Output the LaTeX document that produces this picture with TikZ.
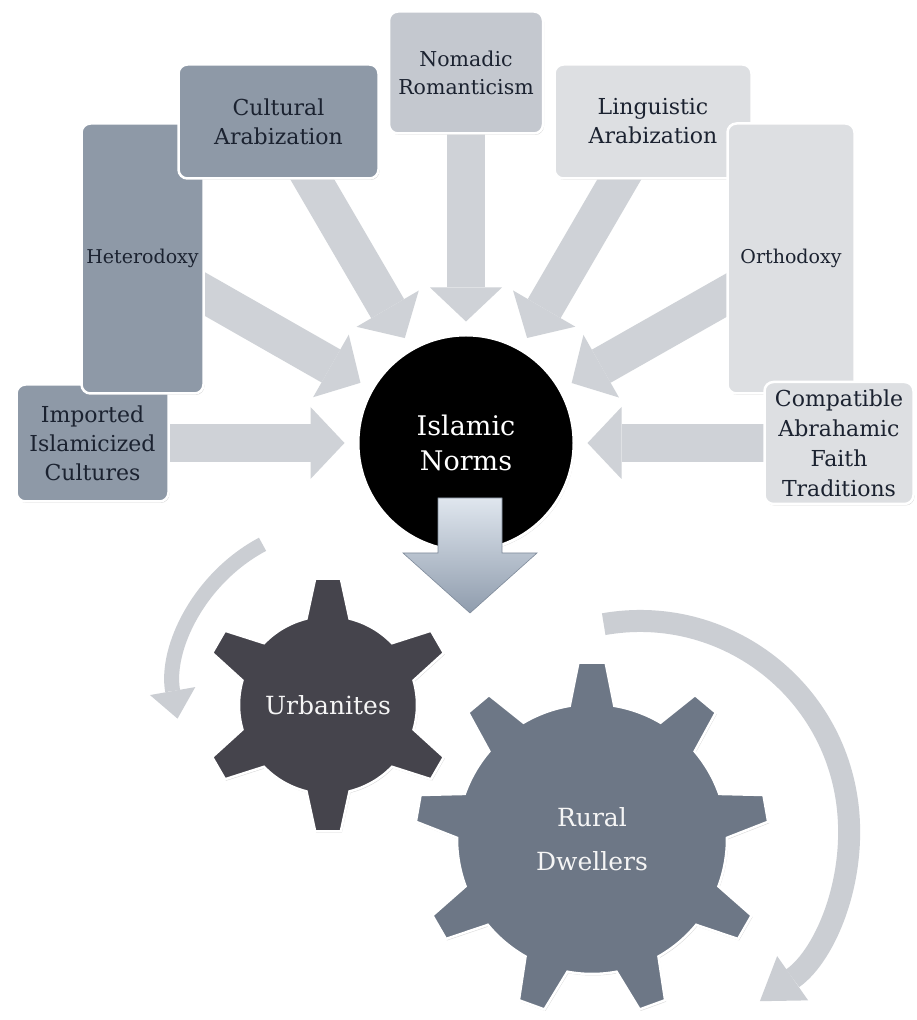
\documentclass[tikz,border=0pt]{standalone}
\usepackage{fontspec}
\setmainfont{DejaVu Serif}
\usetikzlibrary{positioning,calc,shadows,backgrounds,arrows.meta}
\definecolor{darkbox}{HTML}{8E99A7}
\definecolor{midbox}{HTML}{C4C8CF}
\definecolor{lightbox}{HTML}{DDDFE2}
\definecolor{boxtext}{HTML}{1B2230}
\definecolor{arrowgray}{HTML}{CFD2D7}
\definecolor{turngray}{HTML}{CBCED3}
\definecolor{urbangear}{HTML}{45444C}
\definecolor{ruralgear}{HTML}{6D7786}
\definecolor{flowtop}{HTML}{DFE6EE}
\definecolor{flowbottom}{HTML}{8F9CAD}
\definecolor{flowedge}{HTML}{7F8B9B}
\newcommand{\cogwheel}[8]{%
  \path[#8] ($(#1)+(#3-#6:#4)$)
    \foreach \k [evaluate=\k as \ang using #3+(\k-1)*360/#2] in {1,...,#2}{
      -- ($(#1)+(\ang-#6:#4)$) -- ($(#1)+(\ang-#7:#5)$) -- ($(#1)+(\ang+#7:#5)$)
      -- ($(#1)+(\ang+#6:#4)$) arc[start angle=\ang+#6, end angle=\ang+360/#2-#6, radius=#4]
    } -- cycle;
}
\tikzset{
  box/.style={
    rectangle, rounded corners=9pt, draw=white, line width=2.5pt,
    align=center, inner sep=2pt, text=boxtext,
    font=\fontsize{22}{29}\selectfont,
    drop shadow={shadow xshift=1pt, shadow yshift=-1.5pt, opacity=0.3, fill=black!50}
  },
  spoke/.style={
    draw=arrowgray, line width=38pt,
    -{Triangle[length=34pt,width=72pt,line width=0pt]}, shorten >=12pt
  },
  turn/.style={draw=turngray},
  gearrim/.style={
    draw=white, line width=2.5pt,
    drop shadow={shadow xshift=1pt, shadow yshift=-1.5pt, opacity=0.3, fill=black!50}
  },
  geartext/.style={text=white!92!gray, align=center, font=\fontsize{25}{44}\selectfont}
}
\begin{document}
\begin{tikzpicture}[x=1pt,y=1pt]
        \useasboundingbox (0,0) rectangle (916,1020);

        \node [circle, fill=black, draw=white, line width=3pt, minimum size=216pt, text=white, align=center,
               font=\fontsize{27}{35}\selectfont,
               drop shadow={shadow xshift=1pt, shadow yshift=-1.5pt, opacity=0.3, fill=black!50}] (Norms) at (466,577) {Islamic\\Norms};

        \node [box, fill=darkbox, minimum width=152pt, minimum height=117pt, on grid, left=373.5pt of Norms] (Imported) {Imported\\Islamicized\\Cultures};
        \node [box, fill=darkbox, minimum width=122pt, minimum height=270pt, font=\fontsize{19}{24}\selectfont, on grid, above left=184.5pt and 323.5pt of Norms] (Heterodoxy) {Heterodoxy};
        \node [box, fill=darkbox, minimum width=200pt, minimum height=114pt, on grid, above left=321.5pt and 187.5pt of Norms] (Cultural) {Cultural\\Arabization};
        \node [box, fill=midbox, minimum width=154pt, minimum height=122pt, font=\fontsize{20.5}{28}\selectfont, on grid, above=370.5pt of Norms] (Nomadic) {Nomadic\\Romanticism};
        \node [box, fill=lightbox, minimum width=197pt, minimum height=114pt, on grid, above right=321.5pt and 187pt of Norms] (Linguistic) {Linguistic\\Arabization};
        \node [box, fill=lightbox, minimum width=127pt, minimum height=270pt, font=\fontsize{19}{24}\selectfont, on grid, above right=184.5pt and 325pt of Norms] (Orthodoxy) {Orthodoxy};
        \node [box, fill=lightbox, minimum width=149pt, minimum height=122pt, font=\fontsize{22}{30}\selectfont, on grid, right=373pt of Norms] (Compatible) {Compatible\\Abrahamic\\Faith\\Traditions};

        \begin{scope}[on background layer]
          \fill[white] (0,0) rectangle (916,1020);
          \draw[spoke] (Imported.center) to (Norms);
          \draw[spoke] (Heterodoxy.center) to (Norms);
          \draw[spoke] (Cultural.center) to (Norms);
          \draw[spoke] (Nomadic.center) to (Norms);
          \draw[spoke] (Linguistic.center) to (Norms);
          \draw[spoke] (Orthodoxy.center) to (Norms);
          \draw[spoke] (Compatible.center) to (Norms);
        \end{scope}

        \coordinate (FlowTop) at ($(Norms.center)+(4,-55)$);
        \shade[top color=flowtop, bottom color=flowbottom, draw=flowedge, line width=0.6pt]
          ($(FlowTop)+(-32,0)$) -- ++(64,0) -- ++(0,-55) -- ++(35,0) -- ++(-67,-60) -- ++(-67,60) -- ++(35,0) -- cycle;

        \coordinate [on grid, below left=262pt and 138pt of Norms] (UrbanHub);
        \coordinate [on grid, below right=134pt and 264pt of UrbanHub] (RuralHub);

        \draw[turn, line width=15pt, -{Triangle[length=28pt,width=46pt,line width=0pt]}]
          ($(UrbanHub)+(12,15)+(118:165)$) arc[start angle=118, end angle=190, radius=165];
        \draw[turn, line width=22pt, -{Triangle[length=40pt,width=54pt,line width=0pt]}]
          ($(RuralHub)+(48,9)+(100:209)$) arc[start angle=100, end angle=-55, radius=209];

        \cogwheel{UrbanHub}{6}{90}{89}{127}{14}{5.8}{fill=urbangear, gearrim}
        \cogwheel{RuralHub}{9}{90}{135}{177}{9.5}{4.4}{fill=ruralgear, gearrim}
        \node [geartext] (Urban) at (UrbanHub) {Urbanites};
        \node [geartext] (Rural) at (RuralHub) {Rural\\Dwellers};
\end{tikzpicture}
\end{document}
